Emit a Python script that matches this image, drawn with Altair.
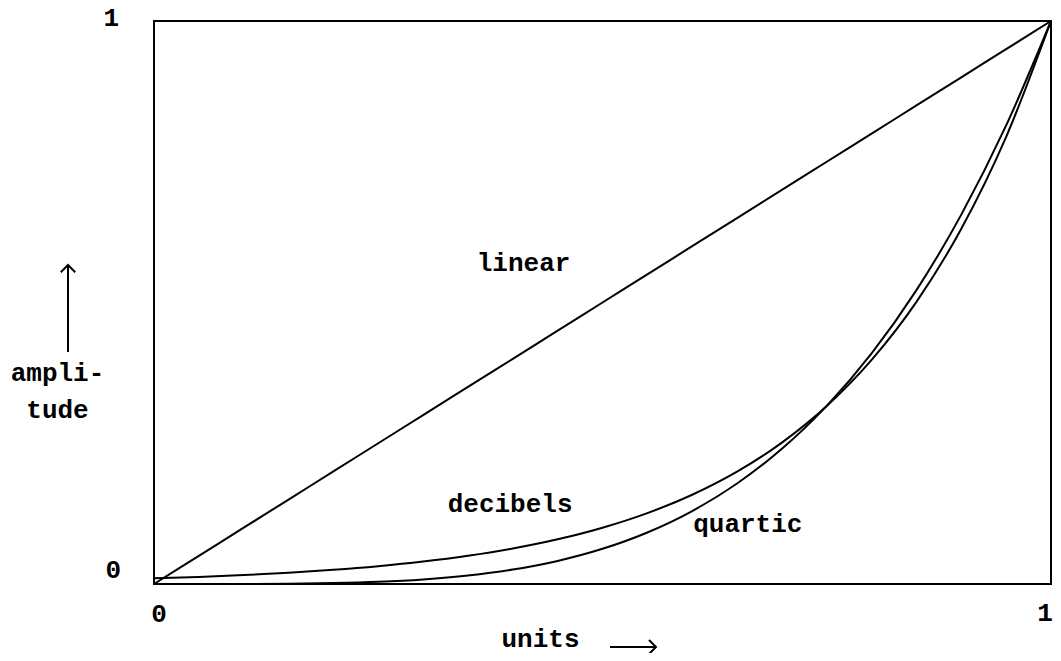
import altair as alt
import pandas as pd

# data
units = [0.0, 0.05, 0.1, 0.15, 0.2, 0.25, 0.3, 0.35, 0.4, 0.45, 0.5,
         0.55, 0.6, 0.65, 0.7, 0.75, 0.8, 0.85, 0.9, 0.95, 1.0]
linear = [0.0, 0.05, 0.1, 0.15, 0.2, 0.25, 0.3, 0.35, 0.4, 0.45, 0.5,
          0.55, 0.6, 0.65, 0.7, 0.75, 0.8, 0.85, 0.9, 0.95, 1.0]
decibels = [0.01, 0.0126, 0.0158, 0.02, 0.0251, 0.0316, 0.0398, 0.0501, 0.0631, 0.0794, 0.1,
            0.1259, 0.1585, 0.1995, 0.2512, 0.3162, 0.3981, 0.5012, 0.631, 0.7943, 1.0]
quartic = [0.0, 0.0000063, 0.0001, 0.0005, 0.0016, 0.0039, 0.0081, 0.015, 0.0256, 0.041, 0.0625,
           0.0915, 0.1296, 0.1785, 0.2401, 0.3164, 0.4096, 0.522, 0.6561, 0.8145, 1.0]

curve_names = ["linear", "decibels", "quartic"]
label_x = [0.412, 0.397, 0.662]
label_y = [0.556, 0.128, 0.092]

FONT = "Liberation Mono"
FS = 26
W, H = 897, 563
PADL = 146

rows = []
for name, vals in zip(curve_names, [linear, decibels, quartic]):
    for u, v in zip(units, vals):
        rows.append({"curve": name, "units": u, "amplitude": v})
df = pd.DataFrame(rows)
labels_df = pd.DataFrame({"curve": curve_names, "units": label_x, "amplitude": label_y})

xs = alt.Scale(domain=[0, 1], nice=False, zero=False)
ys = alt.Scale(domain=[0, 1], nice=False, zero=False)

base_x = alt.X("units:Q", scale=xs, axis=alt.Axis(
    title="units", domain=False, ticks=False, labels=False, grid=False,
    titleFont=FONT, titleFontSize=FS, titleFontWeight="bold", titleColor="black",
    titleX=540 - 8 - PADL, titleY=62, titleAlign="center", titleBaseline="alphabetic"))
base_y = alt.Y("amplitude:Q", scale=ys, axis=alt.Axis(
    title=["ampli-", "tude"], domain=False, ticks=False, labels=False, grid=False,
    titleFont=FONT, titleFontSize=FS, titleFontWeight="bold", titleColor="black",
    titleAngle=0, titleX=57 - 8 - PADL, titleY=359, titleAlign="center",
    titleBaseline="alphabetic", titleLineHeight=37))

lines = alt.Chart(df).mark_line(color="black", strokeWidth=2, interpolate="monotone").encode(
    x=base_x, y=base_y, detail="curve:N")

curve_labels = alt.Chart(labels_df).mark_text(
    font=FONT, fontSize=FS, fontWeight="bold", color="black",
    align="center", baseline="alphabetic").encode(
    x=alt.X("units:Q", scale=xs), y=alt.Y("amplitude:Q", scale=ys), text="curve:N")

tick_df = pd.DataFrame({"units": [0.0, 0.0, 0.0, 1.0], "amplitude": [1.0, 0.0, 0.0, 0.0],
                        "t": ["1", "0", "0", "1"]})


def tick(i, align, dx, dy):
    return alt.Chart(tick_df.iloc[[i]]).mark_text(
        font=FONT, fontSize=FS, fontWeight="bold", color="black",
        align=align, baseline="alphabetic", dx=dx, dy=dy).encode(
        x=alt.X("units:Q", scale=xs), y=alt.Y("amplitude:Q", scale=ys), text="t:N")


ticks = [tick(0, "right", -35, 5), tick(1, "right", -33, -6),
         tick(2, "center", 5, 38), tick(3, "center", -6, 37)]

# arrows
VX = 68 - 8 - PADL
v_shaft = alt.Chart(tick_df.iloc[[0]]).mark_rule(color="black", strokeWidth=2).encode(
    x=alt.value(VX), y=alt.value(244), y2=alt.value(331))
v_head = alt.Chart(tick_df.iloc[[0]]).mark_point(
    shape="M -1 1 L 0 0 L 1 1", filled=False, color="black", strokeWidth=2, size=210, opacity=1).encode(
    x=alt.value(VX), y=alt.value(244))
HX1, HX2, HY = 610 - 8 - PADL, 656 - 8 - PADL, 626
h_shaft = alt.Chart(tick_df.iloc[[0]]).mark_rule(color="black", strokeWidth=2).encode(
    x=alt.value(HX1), x2=alt.value(HX2), y=alt.value(HY))
h_head = alt.Chart(tick_df.iloc[[0]]).mark_point(
    shape="M -1 1 L 0 0 L 1 1", filled=False, color="black", strokeWidth=2, size=196, angle=90, opacity=1).encode(
    x=alt.value(HX2), y=alt.value(HY))

chart = alt.layer(lines, curve_labels, *ticks, v_shaft, v_head, h_shaft, h_head).properties(
    width=W, height=H,
    autosize=alt.AutoSizeParams(type="none"),
    padding={"left": PADL, "top": 13, "right": 2, "bottom": 69},
).configure(background="white").configure_view(stroke="black", strokeWidth=2)

chart.save("out.html", embed_options={"renderer": "svg", "actions": False})
